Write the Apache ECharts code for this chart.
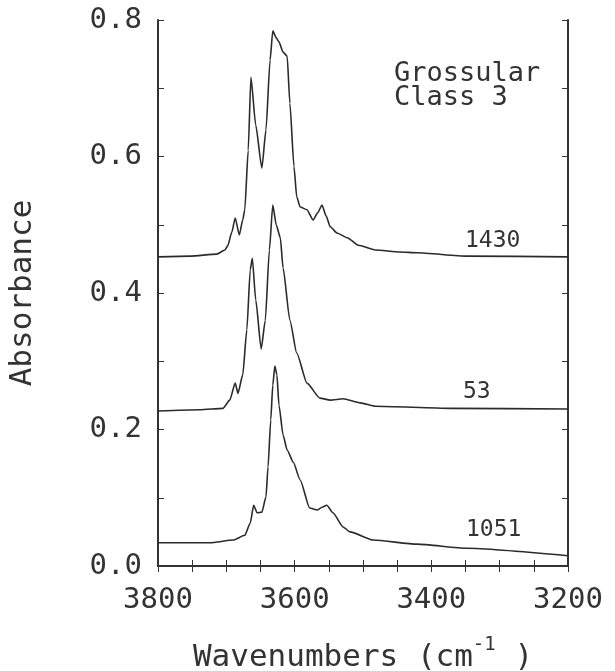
<!DOCTYPE html>
<html>
<head>
<meta charset="utf-8">
<script src="https://cdn.jsdelivr.net/npm/echarts@6/dist/echarts.min.js"></script>
<style>
  html, body { margin: 0; padding: 0; background: #fff; }
  #chart { width: 615px; height: 671px; }
</style>
</head>
<body>
<div id="chart"></div>
<script>
// wavenumbers (cm-1) and absorbance
const wn1430 = [3800, 3753, 3714, 3702, 3698, 3692, 3687, 3681, 3676, 3673, 3668, 3664, 3657, 3648, 3642, 3636, 3632, 3627, 3623, 3617, 3611, 3607, 3601, 3597, 3592, 3582, 3573, 3566, 3560, 3554, 3548, 3538, 3523, 3507, 3482, 3446, 3421, 3348, 3200];
const abs1430 = [0.453, 0.454, 0.457, 0.463, 0.469, 0.489, 0.510, 0.485, 0.507, 0.522, 0.609, 0.716, 0.646, 0.583, 0.639, 0.741, 0.784, 0.774, 0.768, 0.753, 0.747, 0.678, 0.585, 0.541, 0.526, 0.522, 0.507, 0.518, 0.529, 0.513, 0.497, 0.488, 0.481, 0.470, 0.463, 0.460, 0.459, 0.454, 0.453];

const wn53 = [3800, 3739, 3705, 3695, 3687, 3683, 3676, 3670, 3665, 3662, 3657, 3649, 3643, 3637, 3632, 3627, 3621, 3617, 3607, 3597, 3582, 3563, 3548, 3529, 3504, 3482, 3373, 3200];
const abs53 = [0.227, 0.229, 0.231, 0.243, 0.268, 0.253, 0.280, 0.346, 0.434, 0.451, 0.390, 0.318, 0.360, 0.463, 0.529, 0.500, 0.481, 0.437, 0.360, 0.312, 0.268, 0.246, 0.243, 0.245, 0.239, 0.234, 0.231, 0.230];

const wn1051 = [3800, 3724, 3690, 3673, 3665, 3660, 3655, 3648, 3642, 3639, 3635, 3632, 3629, 3626, 3623, 3617, 3611, 3602, 3592, 3578, 3567, 3560, 3553, 3544, 3529, 3519, 3485, 3421, 3348, 3200];
const abs1051 = [0.034, 0.034, 0.038, 0.045, 0.063, 0.089, 0.078, 0.079, 0.101, 0.145, 0.214, 0.265, 0.293, 0.280, 0.236, 0.192, 0.170, 0.152, 0.126, 0.085, 0.082, 0.086, 0.089, 0.078, 0.057, 0.050, 0.038, 0.032, 0.026, 0.015];

const sampleNames = ['1430', '53', '1051'];
const noteLines = ['Grossular', 'Class 3'];

const zip = (xs, ys) => xs.map((x, i) => [x, ys[i]]);

const myChart = echarts.init(document.getElementById('chart'), null, { renderer: 'canvas' });

const mono = '"DejaVu Sans Mono", "Liberation Mono", monospace';
const ink = '#333';

const tickStyle = { show: true, inside: true, length: 6, lineStyle: { color: ink, width: 1 } };

const lineSeries = (name, data) => ({
  name: name,
  type: 'line',
  data: data,
  showSymbol: false,
  smooth: 0.2,
  smoothMonotone: 'x',
  lineStyle: { color: '#2b2b2b', width: 1.6 },
  xAxisIndex: 0,
  yAxisIndex: 0
});

const option = {
  animation: false,
  backgroundColor: '#fff',
  grid: { left: 158, right: 47, top: 20, bottom: 105, containLabel: false, outerBoundsMode: 'none' },
  xAxis: [
    {
      type: 'value',
      inverse: true,
      min: 3200,
      max: 3800,
      interval: 200,
      name: '{t|Wavenumbers (cm}{s|-1}{t| )}',
      nameLocation: 'middle',
      nameGap: 70,
      nameTextStyle: {
        rich: {
          t: { fontFamily: mono, fontSize: 31, color: ink },
          s: { fontFamily: mono, fontSize: 19, color: ink, verticalAlign: 'top', padding: [0, 0, 24, 0] }
        }
      },
      axisLine: { show: true, lineStyle: { color: ink, width: 2 } },
      axisTick: tickStyle,
      minorTick: { show: true, splitNumber: 4, length: 6, lineStyle: { color: ink, width: 1 } },
      splitLine: { show: false },
      axisLabel: { fontFamily: mono, fontSize: 29, color: ink, margin: 20, formatter: v => String(v) }
    },
    {
      type: 'value',
      position: 'top',
      inverse: true,
      min: 3200,
      max: 3800,
      interval: 200,
      axisLine: { show: true, lineStyle: { color: ink, width: 2 } },
      axisTick: tickStyle,
      minorTick: { show: true, splitNumber: 4, length: 6, lineStyle: { color: ink, width: 1 } },
      splitLine: { show: false },
      axisLabel: { show: false }
    }
  ],
  yAxis: [
    {
      type: 'value',
      min: 0,
      max: 0.8,
      interval: 0.2,
      name: 'Absorbance',
      nameLocation: 'middle',
      nameGap: 120,
      nameTextStyle: { fontFamily: mono, fontSize: 31, color: ink },
      axisLine: { show: true, lineStyle: { color: ink, width: 2 } },
      axisTick: tickStyle,
      minorTick: { show: true, splitNumber: 2, length: 6, lineStyle: { color: ink, width: 1 } },
      splitLine: { show: false },
      axisLabel: { fontFamily: mono, fontSize: 29, color: ink, margin: 16, formatter: v => v.toFixed(1) }
    },
    {
      type: 'value',
      position: 'right',
      min: 0,
      max: 0.8,
      interval: 0.2,
      axisLine: { show: true, lineStyle: { color: ink, width: 2 } },
      axisTick: tickStyle,
      minorTick: { show: true, splitNumber: 2, length: 6, lineStyle: { color: ink, width: 1 } },
      splitLine: { show: false },
      axisLabel: { show: false }
    }
  ],
  graphic: [
    { type: 'text', x: 394, y: 86, style: { text: noteLines.join('\n'), font: '27px ' + mono, fill: ink, lineHeight: 24, verticalAlign: 'middle' } },
    { type: 'text', x: 465, y: 241, style: { text: sampleNames[0], font: '23px ' + mono, fill: ink, verticalAlign: 'middle' } },
    { type: 'text', x: 463, y: 392, style: { text: sampleNames[1], font: '23px ' + mono, fill: ink, verticalAlign: 'middle' } },
    { type: 'text', x: 466, y: 530, style: { text: sampleNames[2], font: '23px ' + mono, fill: ink, verticalAlign: 'middle' } }
  ],
  series: [
    lineSeries(sampleNames[0], zip(wn1430, abs1430)),
    lineSeries(sampleNames[1], zip(wn53, abs53)),
    lineSeries(sampleNames[2], zip(wn1051, abs1051))
  ]
};

myChart.setOption(option);
window.addEventListener('resize', function () {
  myChart.resize();
});
</script>
</body>
</html>
